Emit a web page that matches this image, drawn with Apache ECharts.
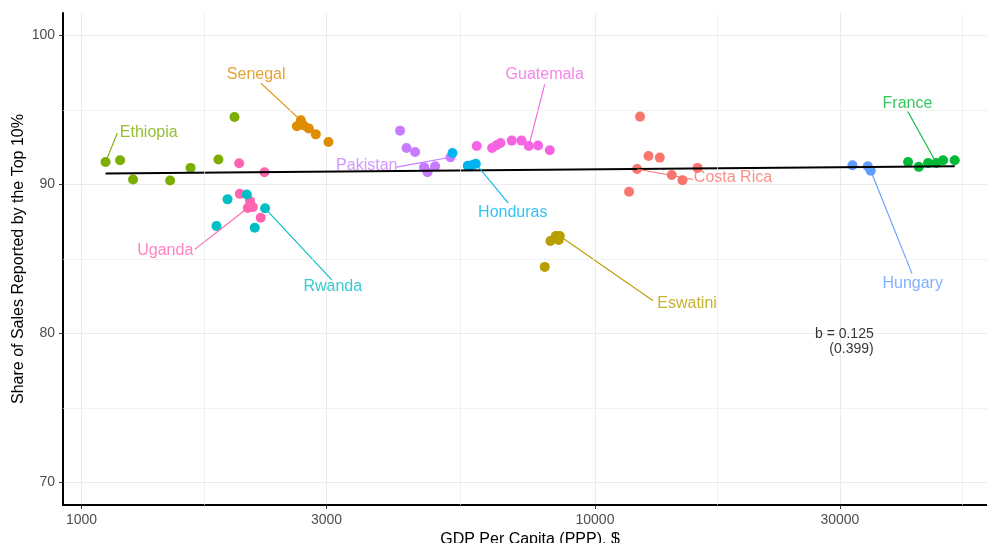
<!DOCTYPE html>
<html>
<head>
<meta charset="utf-8">
<script src="https://cdn.jsdelivr.net/npm/echarts@6/dist/echarts.min.js"></script>
<style>
  html, body { margin: 0; padding: 0; background: #fff; }
  #chart { width: 987px; height: 543px; }
</style>
</head>
<body>
<div id="chart"></div>
<script>
// Survey waves per country: [GDP per capita (PPP, $), share of sales reported by the top 10%]
const ethiopia  = [[1114, 91.51], [1189, 91.62], [1260, 90.33], [1488, 90.27], [1631, 91.11], [1848, 91.67], [1986, 94.52]];
const senegal   = [[2627, 93.90], [2674, 94.30], [2709, 93.96], [2771, 93.76], [2860, 93.36], [3027, 92.85]];
const uganda    = [[2028, 91.42], [2272, 90.82], [2034, 89.37], [2130, 88.88], [2156, 88.48], [2108, 88.42], [2234, 87.77]];
const rwanda    = [[2099, 89.33], [1925, 89.00], [2278, 88.40], [1832, 87.21], [2175, 87.10]];
const pakistan  = [[4173, 93.61], [4295, 92.45], [4464, 92.18], [4648, 91.16], [4719, 90.82], [4883, 91.22], [5231, 91.82]];
const honduras  = [[5279, 92.11], [5653, 91.26], [5755, 91.29], [5860, 91.39]];
const guatemala = [[5886, 92.58], [6304, 92.45], [6430, 92.63], [6546, 92.78], [6887, 92.94], [7193, 92.94], [7433, 92.58], [7749, 92.61], [8166, 92.29]];
const eswatini  = [[8190, 86.21], [8388, 86.54], [8541, 86.54], [8501, 86.28], [7984, 84.47]];
const costaRica = [[12241, 94.55], [12713, 91.91], [13373, 91.80], [12078, 91.04], [14110, 90.64], [14808, 90.29], [15839, 91.11], [11652, 89.51]];
const hungary   = [[31732, 91.29], [33987, 91.22], [34446, 90.92]];
const france    = [[40719, 91.51], [42725, 91.18], [44545, 91.44], [46238, 91.44], [47643, 91.62], [50199, 91.62]];

const countryNames = ['Ethiopia', 'Senegal', 'Uganda', 'Rwanda', 'Pakistan', 'Honduras',
                      'Guatemala', 'Eswatini', 'Costa Rica', 'Hungary', 'France'];
const countryData  = [ethiopia, senegal, uganda, rwanda, pakistan, honduras,
                      guatemala, eswatini, costaRica, hungary, france];

// Axis breaks
const xTicks = [1000, 3000, 10000, 30000];
const xMinorBreaks = [1732, 5477, 17321, 51962];
const yTicks = [70, 80, 90, 100];
const yMinorBreaks = [75, 85, 95];

// Fitted line: share = intercept + slope * ln(GDP)
const slope = 0.125;
const slopeSe = 0.399;
const intercept = 89.86;

// ---- styling & label placement ----
const palette = {
  'Ethiopia': '#7CAE00', 'Senegal': '#DE8C00', 'Uganda': '#FF64B0', 'Rwanda': '#00BFC4',
  'Pakistan': '#C77CFF', 'Honduras': '#00B4F0', 'Guatemala': '#F564E3', 'Eswatini': '#B79F00',
  'Costa Rica': '#F8766D', 'Hungary': '#619CFF', 'France': '#00BA38'
};
// label centre, leader end next to the label, and which point the leader points at
const labelPlacement = {
  'Ethiopia':   { at: [1352, 93.50],  end: [1174, 93.43],  point: 0 },
  'Senegal':    { at: [2189, 97.35],  end: [2235, 96.79],  point: 1 },
  'Uganda':     { at: [1456, 85.54],  end: [1662, 85.65],  point: 5 },
  'Rwanda':     { at: [3086, 83.14],  end: [3072, 83.60],  point: 2 },
  'Pakistan':   { at: [3594, 91.27],  end: [4106, 91.16],  point: 6 },
  'Honduras':   { at: [6918, 88.10],  end: [6775, 88.77],  point: 3 },
  'Guatemala':  { at: [7982, 97.35],  end: [7982, 96.72],  point: 6 },
  'Eswatini':   { at: [15113, 82.02], end: [12977, 82.20], point: 2 },
  'Costa Rica': { at: [18571, 90.44], end: [15524, 90.33], point: 3 },
  'Hungary':    { at: [41574, 83.38], end: [41446, 84.02], point: 2 },
  'France':     { at: [40610, 95.41], end: [40672, 94.90], point: 3 }
};
const annotationAt = [34908, 79.46];

const FONT = 'Liberation Sans, Arial, Helvetica, sans-serif';
const GRID = '#EBEBEB';

const allX = countryData.flat().map(p => p[0]);
const xLo = Math.min(...allX), xHi = Math.max(...allX);
const fitLine = [xLo, xHi].map(x => [x, intercept + slope * Math.log(x)]);

const series = [];

// minor grid lines
series.push({
  type: 'scatter', data: [], silent: true, z: 0,
  markLine: {
    silent: true, symbol: 'none', animation: false,
    label: { show: false },
    lineStyle: { color: GRID, width: 0.7, type: 'solid' },
    data: xMinorBreaks.map(v => ({ xAxis: v })).concat(yMinorBreaks.map(v => ({ yAxis: v })))
  }
});

// points
countryNames.forEach((name, i) => {
  series.push({
    type: 'scatter', name, data: countryData[i], symbolSize: 10, z: 2,
    itemStyle: { color: palette[name], opacity: 1 }
  });
});

// fitted line
series.push({
  type: 'line', data: fitLine, showSymbol: false, symbol: 'none', z: 3,
  lineStyle: { color: '#000', width: 2 }
});

// leader lines
countryNames.forEach((name, i) => {
  const lp = labelPlacement[name];
  series.push({
    type: 'line', data: [lp.end, countryData[i][lp.point]], symbol: 'none', z: 4,
    lineStyle: { color: palette[name], width: 1.1 }
  });
});

// country labels
series.push({
  type: 'scatter', symbolSize: 1, z: 5, silent: true,
  itemStyle: { color: 'transparent' },
  data: countryNames.map(name => ({
    value: labelPlacement[name].at,
    name,
    label: { color: palette[name] }
  })),
  label: {
    show: true, position: 'inside', formatter: p => p.name,
    fontFamily: FONT, fontSize: 16
  }
});

// slope annotation
series.push({
  type: 'scatter', symbolSize: 1, z: 5, silent: true,
  itemStyle: { color: 'transparent' },
  data: [{ value: annotationAt }],
  label: {
    show: true, position: 'inside', align: 'right', verticalAlign: 'middle',
    formatter: () => 'b = ' + slope.toFixed(3) + '\n(' + slopeSe.toFixed(3) + ')',
    fontFamily: FONT, fontSize: 14, lineHeight: 15, color: '#000'
  }
});

const chart = echarts.init(document.getElementById('chart'), null, { renderer: 'canvas' });
chart.setOption({
  animation: false,
  backgroundColor: '#fff',
  grid: { left: 63, right: -10, top: 13, bottom: 38, containLabel: false, outerBoundsMode: 'none' },
  xAxis: {
    type: 'log', logBase: 10,
    min: Math.pow(10, 2.964), max: Math.pow(10, 4.783),
    name: 'GDP Per Capita (PPP), $', nameLocation: 'middle', nameGap: 21,
    nameTextStyle: { fontFamily: FONT, fontSize: 16, color: '#000' },
    axisLine: { show: true, onZero: false, lineStyle: { color: '#000', width: 2 } },
    axisTick: { show: true, length: 4, lineStyle: { color: '#333', width: 1 }, customValues: xTicks },
    axisLabel: { customValues: xTicks, formatter: v => String(Math.round(v)), margin: 8,
                 fontFamily: FONT, fontSize: 14, color: '#4D4D4D' },
    splitLine: { show: true, lineStyle: { color: GRID, width: 1 } },
    minorSplitLine: { show: false }
  },
  yAxis: {
    type: 'value', min: 68.5, max: 101.5,
    name: 'Share of Sales Reported by the Top 10%', nameLocation: 'middle', nameGap: 36,
    nameMoveOverlap: false,
    nameTextStyle: { fontFamily: FONT, fontSize: 16, color: '#000' },
    axisLine: { show: true, onZero: false, lineStyle: { color: '#000', width: 2 } },
    axisTick: { show: true, length: 4, lineStyle: { color: '#333', width: 1 }, customValues: yTicks },
    axisLabel: { customValues: yTicks, margin: 8, fontFamily: FONT, fontSize: 14, color: '#4D4D4D' },
    splitLine: { show: true, lineStyle: { color: GRID, width: 1 } }
  },
  series
});
</script>
</body>
</html>
